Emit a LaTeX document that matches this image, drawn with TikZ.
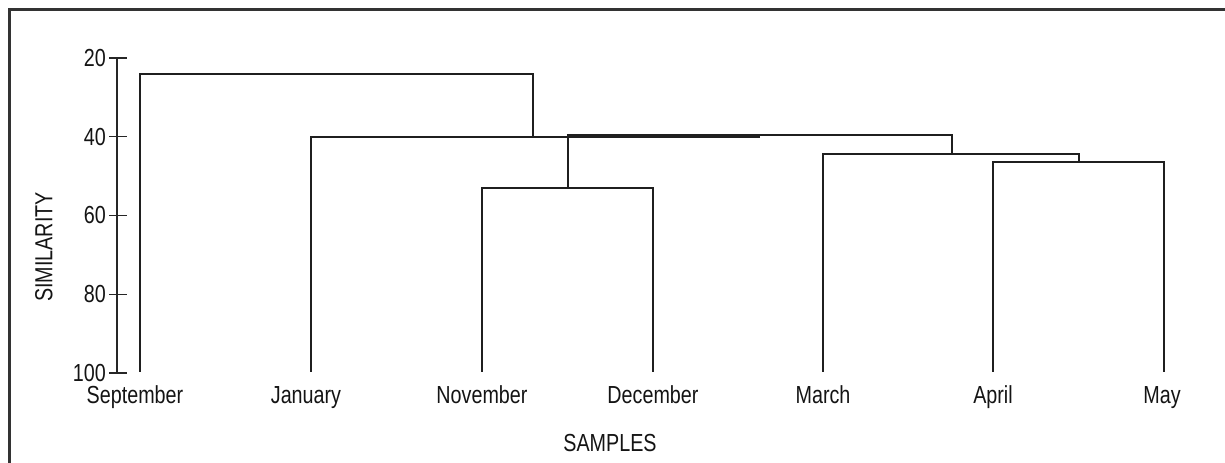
\documentclass[tikz,border=0pt]{standalone}
\usepackage{fontspec}
\setmainfont{Liberation Sans}[FakeStretch=0.8]

\begin{document}
\begin{tikzpicture}[x=0.75pt,y=-0.75pt,
	lbl/.style={font=\fontsize{18.5}{21}\selectfont,inner sep=0pt,black!92},
	link/.style={line width=1.5pt,black!88},
	]
	\useasboundingbox (0,0) rectangle (1225,463);
	\draw[line width=2pt,black!80] (9.5,463) |- (1225,9.5);	%frame

	%similarity axis
	\draw[line width=1.1pt,black!85] (117,58)--(117,373);
	\foreach \s in {20,40,60,80,100}{
		\draw[line width=1.1pt,black!85] (109,{58+(\s-20)*3.9375})--(127,{58+(\s-20)*3.9375});
		\node[lbl,anchor=east] (t\s) at (106,{58+(\s-20)*3.9375}) {\s};
	}
	\node[lbl,rotate=90] (simlabel) at (44,247) {SIMILARITY};
	\node[lbl] (samplabel) at (610,443) {SAMPLES};

	%samples
	\coordinate (sep) at (140,372);
	\coordinate (jan) at (311,372);
	\coordinate (nov) at (482,372);
	\coordinate (dec) at (653,372);
	\coordinate (mar) at (823,372);
	\coordinate (apr) at (993,372);
	\coordinate (may) at (1164,372);
		\node[lbl,anchor=base] (lsep) at (135,403) {September};
		\node[lbl,anchor=base] (ljan) at (306,403) {January};
		\node[lbl,anchor=base] (lnov) at (nov |- 0,403) {November};
		\node[lbl,anchor=base] (ldec) at (dec |- 0,403) {December};
		\node[lbl,anchor=base] (lmar) at (mar |- 0,403) {March};
		\node[lbl,anchor=base] (lapr) at (apr |- 0,403) {April};
		\node[lbl,anchor=base] (lmay) at (1162,403) {May};

	%merges
	\coordinate (nd) at (567.5,188);
	\coordinate (am) at (1078.5,162);
	\coordinate (mam) at (952,154);
	\coordinate (ndm) at (760,135.5);
	\coordinate (jn) at (533,137);
	\coordinate (sn) at (336.5,74);
	\draw[link] (nov) |- (nd) -| (dec);
	\draw[link] (apr) |- (am) -| (may);
	\draw[link] (mar) |- (mam) -| (am);
	\draw[link] (nd) |- (ndm) -| (mam);
	\draw[link] (jan) |- (jn) -- (jn -| ndm);	%overlaps the upper link
	\draw[link] (sep) |- (sn) -| (jn);
\end{tikzpicture}
\end{document}
